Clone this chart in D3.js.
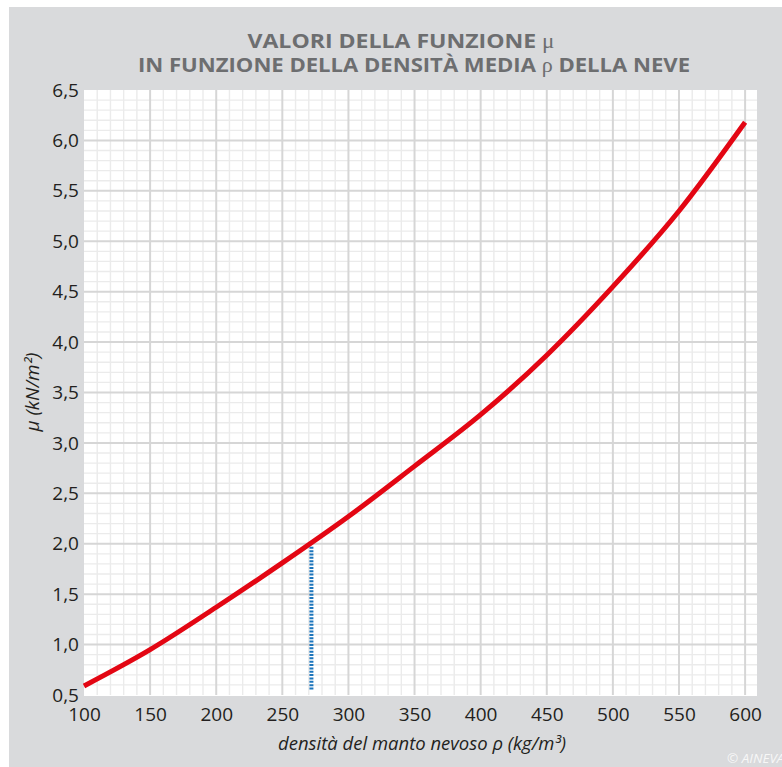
<!DOCTYPE html>
<html>
<head>
<meta charset="utf-8">
<script src="https://cdn.jsdelivr.net/npm/d3@7"></script>
<style>
  body { margin: 0; background: #ffffff; }
  svg { display: block; }
</style>
</head>
<body>
<svg id="chart" width="782" height="767"></svg>
<script>
// Snow density (kg/m³) and the corresponding μ values (kN/m²)
const density = [100, 150, 200, 250, 300, 350, 400, 450, 500, 550, 600];
const muValues = [0.59, 0.95, 1.37, 1.81, 2.27, 2.77, 3.28, 3.87, 4.55, 5.30, 6.18];

// Axis tick labels
const xTicks = [100, 150, 200, 250, 300, 350, 400, 450, 500, 550, 600];
const yTicks = [0.5, 1.0, 1.5, 2.0, 2.5, 3.0, 3.5, 4.0, 4.5, 5.0, 5.5, 6.0, 6.5];

// Reference reading marked with a dotted drop line
const markerDensity = [272];
const markerMu = [1.97];

const svg = d3.select("#chart");
const W = 782, H = 767;

// Grey panel
svg.append("rect").attr("x", 9).attr("y", 7).attr("width", W - 9).attr("height", H - 7)
  .attr("fill", "#d9dadc");

const x = d3.scaleLinear().domain([100, 609]).range([84, 757]);
const y = d3.scaleLinear().domain([0.5, 6.5]).range([695, 90]);

// Plot area
svg.append("rect")
  .attr("x", x(100)).attr("y", y(6.5))
  .attr("width", x(609) - x(100)).attr("height", y(0.5) - y(6.5) + 1)
  .attr("fill", "#ffffff");

const grid = svg.append("g");
const xMinor = d3.range(110, 609, 10).filter(v => v % 50 !== 0);
const xMajor = d3.range(150, 609, 50);
const yMinor = d3.range(6, 65).map(v => v / 10).filter(v => Math.round(v * 10) % 5 !== 0);
const yMajor = d3.range(1, 13).map(v => v / 2).filter(v => v > 0.5 && v < 6.5);

grid.selectAll(".xm").data(xMinor).join("line")
  .attr("x1", d => x(d)).attr("x2", d => x(d))
  .attr("y1", y(6.5)).attr("y2", y(0.5))
  .attr("stroke", "#ebebeb").attr("stroke-width", 1.4);
grid.selectAll(".ym").data(yMinor).join("line")
  .attr("y1", d => y(d)).attr("y2", d => y(d))
  .attr("x1", x(100)).attr("x2", x(609))
  .attr("stroke", "#ebebeb").attr("stroke-width", 1.4);
grid.selectAll(".xM").data(xMajor).join("line")
  .attr("x1", d => x(d)).attr("x2", d => x(d))
  .attr("y1", y(6.5)).attr("y2", y(0.5))
  .attr("stroke", "#d6d6d6").attr("stroke-width", 2);
grid.selectAll(".yM").data(yMajor).join("line")
  .attr("y1", d => y(d)).attr("y2", d => y(d))
  .attr("x1", x(100)).attr("x2", x(609))
  .attr("stroke", "#d6d6d6").attr("stroke-width", 2);

const fmt = d => d3.format(".1f")(d).replace(".", ",");

// Axes
const tickFont = "'Open Sans', 'Noto Sans', sans-serif";
const xAxis = svg.append("g").attr("transform", `translate(0,${y(0.5)})`)
  .call(d3.axisBottom(x).tickValues(xTicks).tickSize(0).tickPadding(13).tickFormat(d3.format("d")));
const yAxis = svg.append("g").attr("transform", `translate(${x(100)},0)`)
  .call(d3.axisLeft(y).tickValues(yTicks).tickSize(0).tickPadding(5).tickFormat(fmt));
[xAxis, yAxis].forEach(g => {
  g.select(".domain").remove();
  g.selectAll("text").attr("font-family", tickFont).attr("font-size", 19).attr("fill", "#231f20");
});

// Dotted drop line
svg.selectAll(".marker").data(markerDensity).join("line")
  .attr("x1", d => x(d)).attr("x2", d => x(d))
  .attr("y1", (d, i) => y(markerMu[i])).attr("y2", y(0.55))
  .attr("stroke", "#1c75bc").attr("stroke-width", 4)
  .attr("stroke-dasharray", "2,1.35");

// Curve μ(ρ)
const line = d3.line()
  .x((d, i) => x(density[i]))
  .y(d => y(d))
  .curve(d3.curveMonotoneX);
svg.append("path").datum(muValues)
  .attr("d", line)
  .attr("fill", "none")
  .attr("stroke", "#e30613")
  .attr("stroke-width", 5);

// Title
const titleFont = "'Liberation Sans Narrow', 'Open Sans', sans-serif";
const t1 = svg.append("text").attr("x", 401).attr("y", 48)
  .attr("text-anchor", "middle").attr("font-family", titleFont)
  .attr("font-weight", "bold").attr("font-size", 20).attr("fill", "#6d6e70")
  .attr("textLength", 307).attr("lengthAdjust", "spacingAndGlyphs");
t1.append("tspan").text("VALORI DELLA FUNZIONE ");
t1.append("tspan").attr("font-family", "'Liberation Serif', serif").attr("font-weight", "normal").text("μ");

const t2 = svg.append("text").attr("x", 414).attr("y", 72)
  .attr("text-anchor", "middle").attr("font-family", titleFont)
  .attr("font-weight", "bold").attr("font-size", 20).attr("fill", "#6d6e70")
  .attr("textLength", 552).attr("lengthAdjust", "spacingAndGlyphs");
t2.append("tspan").text("IN FUNZIONE DELLA DENSITÀ MEDIA ");
t2.append("tspan").attr("font-family", "'Liberation Serif', serif").attr("font-weight", "normal").text("ρ");
t2.append("tspan").text(" DELLA NEVE");

// Axis titles
svg.append("text").attr("x", 422).attr("y", 750)
  .attr("text-anchor", "middle").attr("font-family", tickFont)
  .attr("font-style", "italic").attr("font-size", 17.5).attr("fill", "#231f20")
  .attr("textLength", 288).attr("lengthAdjust", "spacingAndGlyphs")
  .text("densità del manto nevoso ρ  (kg/m³)");

svg.append("text").attr("transform", "translate(39,392) rotate(-90)")
  .attr("text-anchor", "middle").attr("font-family", tickFont)
  .attr("font-style", "italic").attr("font-size", 17.5).attr("fill", "#231f20")
  .attr("textLength", 79).attr("lengthAdjust", "spacingAndGlyphs")
  .text("μ  (kN/m²)");

// Credit
svg.append("text").attr("x", 727).attr("y", 763)
  .attr("font-family", tickFont).attr("font-style", "italic")
  .attr("font-size", 13.5).attr("fill", "#f7f7f7")
  .text("© AINEVA");
</script>
</body>
</html>
